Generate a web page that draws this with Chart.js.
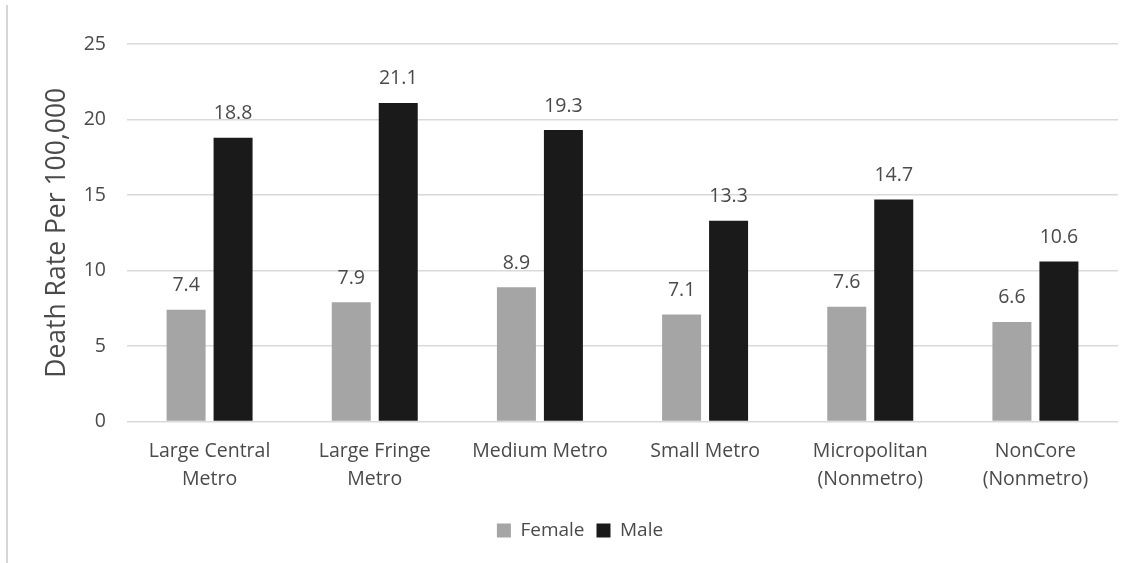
<!DOCTYPE html>
<html>
<head>
<meta charset="utf-8">
<script src="https://cdn.jsdelivr.net/npm/chart.js@4/dist/chart.umd.min.js"></script>
<style>
  html, body { margin: 0; padding: 0; background: #fff; }
  #wrap { position: relative; width: 1143px; height: 563px; }
  #edge { position: absolute; left: 6px; top: 5px; width: 2px; height: 558px; background: #d6d6d6; }
  canvas { position: absolute; left: 0; top: 0; }
</style>
</head>
<body>
<div id="wrap">
  <div id="edge"></div>
  <canvas id="c" width="1143" height="563"></canvas>
</div>
<script>
const categories = [
  ['Large Central', 'Metro'],
  ['Large Fringe', 'Metro'],
  ['Medium Metro'],
  ['Small Metro'],
  ['Micropolitan', '(Nonmetro)'],
  ['NonCore', '(Nonmetro)']
];
const femaleRates = [7.4, 7.9, 8.9, 7.1, 7.6, 6.6];
const maleRates = [18.8, 21.1, 19.3, 13.3, 14.7, 10.6];
const seriesNames = ['Female', 'Male'];
const yTitle = 'Death Rate Per 100,000';

const FONT = '"Open Sans", "DejaVu Sans", sans-serif';
const TEXT = '#4a4a4a';

// Writes each bar's value just above the bar.
const valueLabels = {
  id: 'valueLabels',
  afterDatasetsDraw(chart) {
    const ctx = chart.ctx;
    ctx.save();
    ctx.font = '19.5px ' + FONT;
    ctx.fillStyle = TEXT;
    ctx.textAlign = 'center';
    ctx.textBaseline = 'middle';
    chart.data.datasets.forEach((ds, i) => {
      const meta = chart.getDatasetMeta(i);
      meta.data.forEach((bar, j) => {
        ctx.fillText(ds.data[j].toFixed(1), bar.x, bar.y - 24);
      });
    });
    ctx.restore();
  }
};

new Chart(document.getElementById('c'), {
  type: 'bar',
  data: {
    labels: categories,
    datasets: [
      { label: seriesNames[0], data: femaleRates, backgroundColor: '#a5a5a5',
        categoryPercentage: 0.569, barPercentage: 0.83 },
      { label: seriesNames[1], data: maleRates, backgroundColor: '#1a1a1a',
        categoryPercentage: 0.569, barPercentage: 0.83 }
    ]
  },
  options: {
    responsive: false,
    animation: false,
    devicePixelRatio: 1,
    layout: { padding: { left: 42, right: 25, top: 44, bottom: 13 } },
    plugins: {
      legend: {
        position: 'bottom',
        labels: {
          boxWidth: 14, boxHeight: 14, padding: 12,
          color: TEXT, font: { family: FONT, size: 19 }
        }
      },
      tooltip: { enabled: false }
    },
    scales: {
      x: {
        grid: { display: false, drawTicks: false },
        border: { display: false },
        ticks: {
          color: TEXT, padding: 16, maxRotation: 0, autoSkip: false,
          font: { family: FONT, size: 19.5, lineHeight: 1.42 }
        }
      },
      y: {
        min: 0, max: 25,
        ticks: { stepSize: 5, color: TEXT, padding: 21, font: { family: FONT, size: 19.5 } },
        grid: { color: '#d9d9d9', lineWidth: 1.5, drawTicks: false },
        border: { display: false },
        title: {
          display: true, text: yTitle, color: TEXT,
          font: { family: FONT, size: 26.5 }, padding: { top: 0, bottom: 0 }
        },
        afterFit(scale) { scale.width = 85; }
      }
    }
  },
  plugins: [valueLabels]
});
</script>
</body>
</html>
